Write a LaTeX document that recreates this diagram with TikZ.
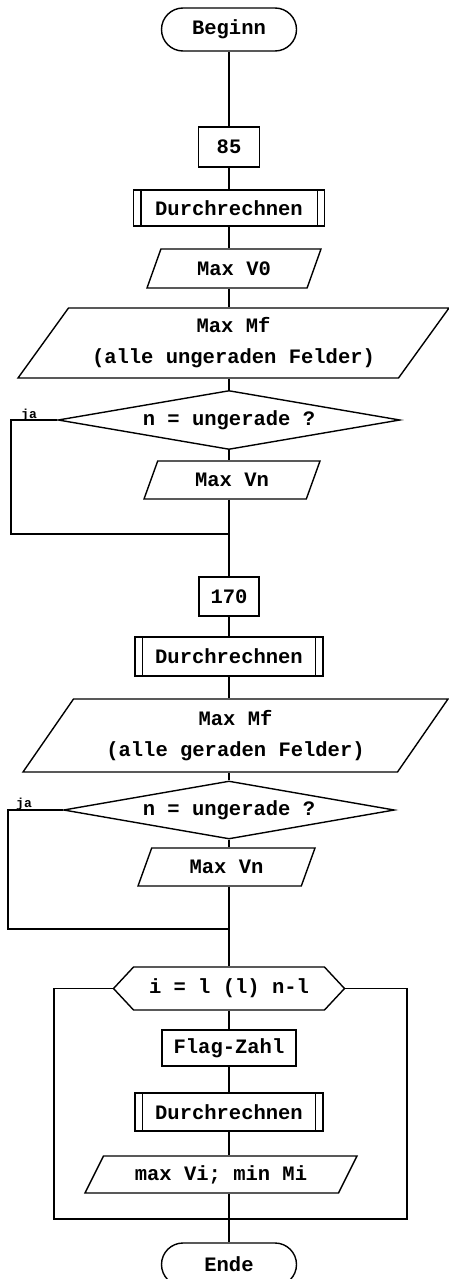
\documentclass[tikz,border=0pt]{standalone}
\usepackage{fontspec}
\setmonofont{Liberation Mono}
\usepackage{tikz}
\usetikzlibrary{shapes.geometric, shapes.misc, shapes.symbols, positioning, calc}
\tikzset{
    base/.style={draw=black, line width=1.4pt, inner sep=0pt, text centered, align=center, font=\ttfamily\bfseries\fontsize{20.5}{31}\selectfont},
    terminal/.style={base, rounded rectangle, minimum width=135pt, minimum height=43pt},
    stepbox/.style={base, rectangle},
    subproc/.style={base, rectangle},
    io/.style={base, trapezium, trapezium left angle=45, trapezium right angle=135, trapezium stretches body},
    decision/.style={base, diamond, aspect=5.8},
    loophead/.style={base, signal, signal to=west and east, signal pointer angle=94, minimum width=231pt, minimum height=43pt},
    flow/.style={line width=1.4pt},
    yeslabel/.style={inner sep=0pt, anchor=base west, font=\ttfamily\bfseries\fontsize{13}{15}\selectfont}
}

\begin{document}
\begin{tikzpicture}[x=1pt, y=-1pt]
    \useasboundingbox (0,0) rectangle (449,1279);
    \coordinate (ax) at (229,0);

    % Start and first pass
    \node[terminal] (begin) at (229,29.5) {Beginn};
    \node[stepbox, minimum width=61pt, minimum height=40pt] (n85) at (229,147) {85};
    \node[subproc, minimum width=191pt, minimum height=36pt] (sub1) at (229,208) {Durchrechnen};
    \node[io, minimum width=174pt, minimum height=39pt] (out0) at (234,268.5) {Max V0};
    \node[io, minimum width=431pt, minimum height=70pt] (outmf1) at (233.5,343) {Max Mf\\(alle ungeraden Felder)};
    \node[decision, minimum width=342pt, minimum height=59pt] (dia1) at (229,420) {n = ungerade ?};
    \node[io, minimum width=176pt, minimum height=38pt] (outvn1) at (232,480) {Max Vn};

    % Second pass
    \node[stepbox, minimum width=60pt, minimum height=39pt] (n170) at (229,596.5) {170};
    \node[subproc, minimum width=188pt, minimum height=39pt] (sub2) at (229,656.5) {Durchrechnen};
    \node[io, minimum width=425pt, minimum height=73pt] (outmf2) at (235.5,735.5) {Max Mf\\(alle geraden Felder)};
    \node[decision, minimum width=331pt, minimum height=58pt] (dia2) at (229,810) {n = ungerade ?};
    \node[io, minimum width=177pt, minimum height=38pt] (outvn2) at (226.5,867) {Max Vn};

    % Loop over i
    \node[loophead] (loophd) at (229,988.5) {i = l (l) n-l};
    \node[stepbox, minimum width=134pt, minimum height=36pt] (flag) at (229,1048) {Flag-Zahl};
    \node[subproc, minimum width=188pt, minimum height=38pt] (sub3) at (229,1112) {Durchrechnen};
    \node[io, minimum width=272pt, minimum height=37pt] (outvi) at (221,1174.5) {max Vi; min Mi};
    \node[terminal] (ende) at (229,1264.5) {Ende};

    % Double side bars
    \foreach \s in {sub1, sub2, sub3} {
        \draw[flow] ([xshift=8pt]\s.north west) -- ([xshift=8pt]\s.south west);
        \draw[flow] ([xshift=-8pt]\s.north east) -- ([xshift=-8pt]\s.south east);
    }

    % Main line
    \foreach \a/\b in {begin/n85, n85/sub1, sub1/out0, out0/outmf1, outmf1/dia1, dia1/outvn1, outvn1/n170, n170/sub2, sub2/outmf2, outmf2/dia2, dia2/outvn2, outvn2/loophd, loophd/flag, flag/sub3, sub3/outvi, outvi/ende}
        \draw[flow] (\a.south -| ax) -- (\b.north -| ax);

    % Branches
    \coordinate (lp1) at (11,534);
    \coordinate (lp2) at (8,929);
    \draw[flow] (dia1.west) -| (lp1) -- (lp1 -| ax);
    \draw[flow] (dia2.west) -| (lp2) -- (lp2 -| ax);
    \node[yeslabel] (ja1) at (21,418) {ja};
    \node[yeslabel] (ja2) at (16,807) {ja};

    % Loop frame
    \coordinate (lpl) at (54,1219);
    \coordinate (lpr) at (407,1219);
    \draw[flow] (loophd.west) -| (lpl) -- (lpr) |- (loophd.east);
\end{tikzpicture}
\end{document}
